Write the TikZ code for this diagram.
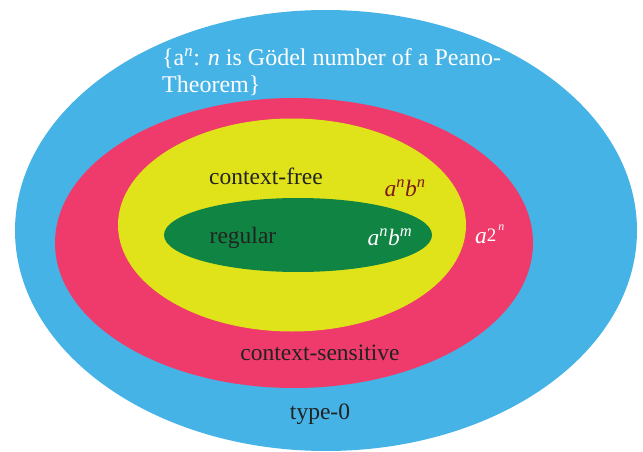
\documentclass[tikz,border=0pt]{standalone}
\usepackage{fontspec}
\setmainfont{Liberation Serif}
\usetikzlibrary{shapes.geometric}
\definecolor{cblue}{HTML}{45B3E6}
\definecolor{cred}{HTML}{EE3B6B}
\definecolor{cyellow}{HTML}{E0E31A}
\definecolor{cgreen}{HTML}{108442}
\definecolor{ctext}{HTML}{222222}
\definecolor{cbrown}{HTML}{7B1A12}
\tikzset{
  region/.style={ellipse, inner sep=0pt, draw=none},
  lbl/.style={font=\fontsize{23.5}{27.5}\selectfont, text=ctext, inner sep=0pt},
}
\begin{document}
\begin{tikzpicture}[x=1pt,y=-1pt]
\useasboundingbox (0,0) rectangle (643,452);
\node[region, fill=cblue, minimum width=622pt, minimum height=441pt] (type0) at (326,230.5) {};
\node[region, fill=cred, minimum width=478pt, minimum height=290pt] (cs) at (294,243) {};
\node[region, fill=cyellow, minimum width=348pt, minimum height=213pt] (cf) at (292,225) {};
\node[region, fill=cgreen, minimum width=268pt, minimum height=74pt] (reg) at (298,235) {};
\node[lbl, font=\fontsize{24}{27.5}\selectfont, text=white, align=left, anchor=north west] (godel) at (162,48)
  {\{a\textsuperscript{\textit{n}}: \textit{n} is Gödel number of a Peano-\\Theorem\}};
\node[lbl] (cflbl) at (266,176) {context-free};
\node[lbl, text=cbrown] (anbn) at (405,188) {\textit{a}\textsuperscript{\textit{n}}\textit{b}\textsuperscript{\textit{n}}};
\node[lbl] (reglbl) at (243,238) {regular};
\node[lbl, text=white] (anbm) at (390,237) {\textit{a}\textsuperscript{\textit{n}}\textit{b}\textsuperscript{\textit{m}}};
\node[lbl, text=white, anchor=base west] (a2n) at (475,243) {\textit{a}\raisebox{2pt}{\fontsize{19}{20}\selectfont 2}\raisebox{13pt}{\fontsize{12}{13}\selectfont\,\textit{n}}};
\node[lbl] (cslbl) at (320,353) {context-sensitive};
\node[lbl] (t0lbl) at (320,414) {type-0};
\end{tikzpicture}
\end{document}
